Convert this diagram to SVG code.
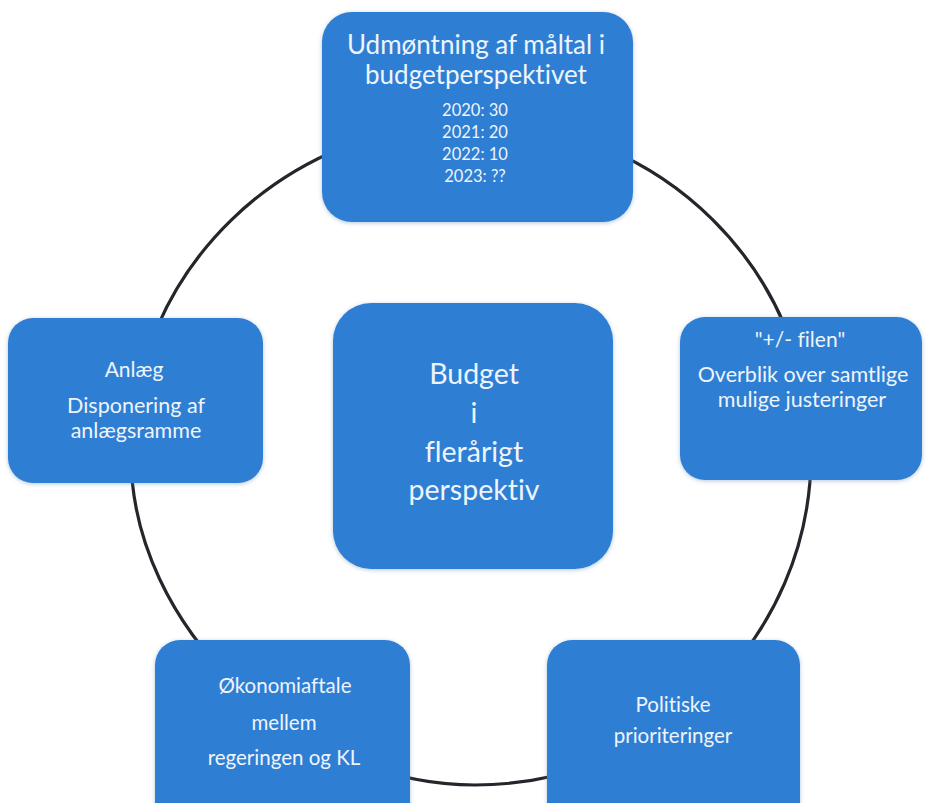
<svg xmlns="http://www.w3.org/2000/svg" width="925" height="803" viewBox="0 0 925 803">
  <defs>
    <filter id="sh" x="-10%" y="-10%" width="120%" height="120%">
      <feGaussianBlur in="SourceAlpha" stdDeviation="2"/>
      <feOffset dx="0" dy="1" result="b"/>
      <feFlood flood-color="#6a8fb5" flood-opacity="0.5"/>
      <feComposite in2="b" operator="in"/>
      <feMerge><feMergeNode/><feMergeNode in="SourceGraphic"/></feMerge>
    </filter>
  </defs>
  <style>
    .box { fill: #2d7fd3; filter: url(#sh); }
    .t { fill: #eef4fc; font-family: Lato, "Liberation Sans", sans-serif; text-anchor: middle; font-variant-ligatures: none; }
    .ring { fill: none; stroke: #24262b; stroke-width: 3.2; }
  </style>
  <rect width="925" height="803" fill="#ffffff"/>

  <g id="connectors">
    <path class="ring" d="M475,122 C660.6,122 811,271.1 811,455 C811,637.3 660.6,785 475,785 C296.1,785 131,626.6 131,455 C131,271.1 285,122 475,122 Z"/>
  </g>

  <g id="node-top">
    <rect class="box" x="322" y="12" width="311" height="210" rx="30"/>
    <text class="t" x="476" y="54" font-size="26">Udmøntning af måltal i</text>
    <text class="t" x="476" y="84" font-size="26">budgetperspektivet</text>
    <text class="t" x="475" y="116" font-size="16.5">2020: 30</text>
    <text class="t" x="475" y="138" font-size="16.5">2021: 20</text>
    <text class="t" x="475" y="160" font-size="16.5">2022: 10</text>
    <text class="t" x="475" y="182" font-size="16.5">2023: ??</text>
  </g>

  <g id="node-center">
    <rect class="box" x="333" y="303" width="280" height="266" rx="38"/>
    <text class="t" x="474" y="384" font-size="28.5">Budget</text>
    <text class="t" x="474" y="423" font-size="28.5">i</text>
    <text class="t" x="474" y="462" font-size="28.5">flerårigt</text>
    <text class="t" x="474" y="500" font-size="28.5">perspektiv</text>
  </g>

  <g id="node-left">
    <rect class="box" x="8" y="318" width="255" height="165" rx="25"/>
    <text class="t" x="134" y="377" font-size="21">Anlæg</text>
    <text class="t" x="136" y="413" font-size="21.5">Disponering af</text>
    <text class="t" x="136" y="438" font-size="21.5">anlægsramme</text>
  </g>

  <g id="node-right">
    <rect class="box" x="680" y="317" width="242" height="163" rx="25"/>
    <text class="t" x="800" y="347" font-size="21">"+/- filen"</text>
    <text class="t" x="803" y="382" font-size="21.5">Overblik over samtlige</text>
    <text class="t" x="802" y="407" font-size="21.5">mulige justeringer</text>
  </g>

  <g id="node-bottom-left">
    <rect class="box" x="155" y="640" width="255" height="190" rx="25"/>
    <text class="t" x="285" y="693" font-size="20.5">Økonomiaftale</text>
    <text class="t" x="284" y="730" font-size="20.5">mellem</text>
    <text class="t" x="284" y="765" font-size="20.5">regeringen og KL</text>
  </g>

  <g id="node-bottom-right">
    <rect class="box" x="547" y="640" width="253" height="190" rx="25"/>
    <text class="t" x="673" y="712" font-size="20.5">Politiske</text>
    <text class="t" x="673" y="743" font-size="20.5">prioriteringer</text>
  </g>
</svg>
